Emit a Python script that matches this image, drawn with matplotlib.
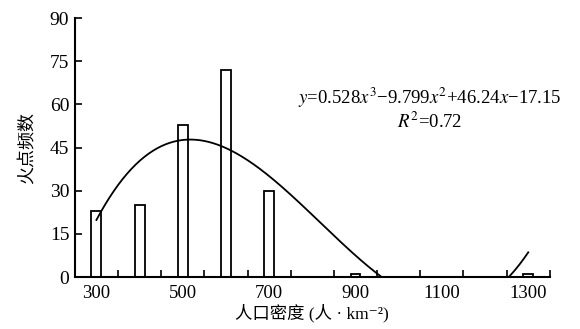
import matplotlib
matplotlib.use('Agg')
import numpy as np
import matplotlib.pyplot as plt

# 数据
density = [300, 400, 500, 600, 700, 900, 1300]
fire_count = [23, 25, 53, 72, 30, 1, 1]
coef = [0.528, -9.799, 46.24, -17.15]   # 拟合曲线 y=ax^3+bx^2+cx+d, x = (密度-200)/100
x_labels = [300, 500, 700, 900, 1100, 1300]
x_minor = [350, 450, 550, 650, 750, 850, 950, 1050, 1150, 1250, 1350]
y_ticks = [0, 15, 30, 45, 60, 75, 90]

plt.rcParams['font.family'] = ['Liberation Serif', 'Noto Sans CJK SC', 'DejaVu Serif']
plt.rcParams['mathtext.fontset'] = 'stix'

fig = plt.figure(figsize=(5.8, 3.29), dpi=100)
ax = fig.add_axes([0.129, 0.158, 0.819, 0.787])

ax.bar(density, fire_count, width=23, facecolor='white', edgecolor='black', linewidth=1.3)

# 拟合曲线
xi = np.linspace(1, 11, 300)
yi = np.polyval(coef, xi)
ax.plot(xi * 100 + 200, yi, color='black', linewidth=1.3)

ax.set_xlim(250, 1350)
ax.set_ylim(0, 90)
ax.set_xticks(x_labels)
ax.set_xticks(x_minor, minor=True)
ax.set_yticks(y_ticks)
ax.tick_params(axis='x', which='major', length=0, labelsize=13.5, pad=6)
ax.tick_params(axis='x', which='minor', direction='in', length=5, width=1.2)
ax.tick_params(axis='y', direction='in', length=5, width=1.2, labelsize=14, pad=4)

for s in ['top', 'right']:
    ax.spines[s].set_visible(False)
for s in ['left', 'bottom']:
    ax.spines[s].set_linewidth(1.5)

ax.set_xlabel('人口密度 (人 · km⁻²)', fontsize=12.5, labelpad=1)
ax.set_ylabel('火点频数', fontsize=13, family=['Noto Sans CJK SC'], labelpad=10)

ax.text(1072, 58.5, '$y$=0.528$x^3$−9.799$x^2$+46.24$x$−17.15\n$R^2$=0.72',
        ha='center', va='center', multialignment='center', fontsize=13.5, linespacing=1.1)

plt.savefig('out.png', dpi=100)
